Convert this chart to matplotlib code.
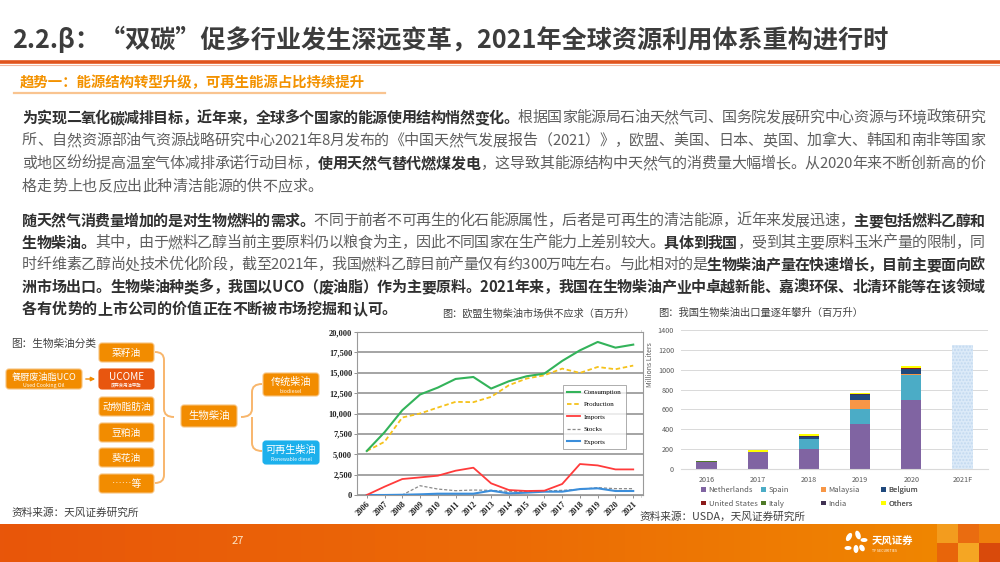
import matplotlib
matplotlib.use("Agg")
import numpy as np
import matplotlib.pyplot as plt
from matplotlib.patches import FancyBboxPatch, Rectangle, Ellipse, PathPatch
from matplotlib.path import Path
from matplotlib.ticker import FuncFormatter
from matplotlib.colors import LinearSegmentedColormap

plt.rcParams['font.family'] = ['Noto Sans CJK SC', 'DejaVu Sans']

# EU biodiesel supply / demand (million litres)
eu_years = list(range(2006, 2022))
consumption = [5400, 7700, 10400, 12330, 13180, 14240, 14480, 13060, 13960, 14570, 14900, 16450, 17750, 18780, 18080, 18450]
production = [5400, 6530, 9510, 10000, 10730, 11430, 11390, 12040, 13470, 14290, 14690, 15510, 14980, 15710, 15430, 15880]
imports = [0, 1020, 1960, 2160, 2370, 2980, 3350, 1430, 610, 490, 530, 1350, 3800, 3630, 3140, 3140]
stocks = [0, 0, 0, 1140, 730, 530, 610, 570, 450, 450, 490, 570, 690, 900, 780, 780]
exports = [0, 0, 30, 80, 160, 160, 160, 530, 200, 290, 410, 410, 730, 820, 490, 490]

# China biodiesel exports by destination (million litres)
cn_years = ['2016', '2017', '2018', '2019', '2020', '2021F']
netherlands = [72, 168, 198, 450, 695, 0]
spain = [0, 5, 100, 150, 252, 0]
malaysia = [0, 0, 8, 95, 10, 0]
belgium = [0, 0, 12, 50, 55, 0]
united_states = [0, 0, 5, 3, 3, 0]
italy = [5, 3, 3, 2, 2, 0]
india = [0, 0, 6, 4, 2, 0]
others = [3, 15, 22, 8, 18, 0]
forecast = [0, 0, 0, 0, 0, 1250]

title = "2.2.β：“双碳”促多行业发生深远变革，2021年全球资源利用体系重构进行时"
subtitle = "趋势一：能源结构转型升级，可再生能源占比持续提升"

para1 = [
    [("为实现二氧化碳减排目标，近年来，全球多个国家的能源使用结构悄然变化。", 1),
     ("根据国家能源局石油天然气司、国务院发展研究中心资源与环境政策研究", 0)],
    [("所、自然资源部油气资源战略研究中心2021年8月发布的《中国天然气发展报告（2021）》，欧盟、美国、日本、英国、加拿大、韩国和南非等国家", 0)],
    [("或地区纷纷提高温室气体减排承诺行动目标，", 0), ("使用天然气替代燃煤发电", 1),
     ("，这导致其能源结构中天然气的消费量大幅增长。从2020年来不断创新高的价", 0)],
    [("格走势上也反应出此种清洁能源的供不应求。", 0)],
]
para2 = [
    [("随天然气消费量增加的是对生物燃料的需求。", 1),
     ("不同于前者不可再生的化石能源属性，后者是可再生的清洁能源，近年来发展迅速，", 0),
     ("主要包括燃料乙醇和", 1)],
    [("生物柴油。", 1), ("其中，由于燃料乙醇当前主要原料仍以粮食为主，因此不同国家在生产能力上差别较大。", 0),
     ("具体到我国", 1), ("，受到其主要原料玉米产量的限制，同", 0)],
    [("时纤维素乙醇尚处技术优化阶段，截至2021年，我国燃料乙醇目前产量仅有约300万吨左右。与此相对的是", 0),
     ("生物柴油产量在快速增长，目前主要面向欧", 1)],
    [("洲市场出口。生物柴油种类多，我国以UCO（废油脂）作为主要原料。2021年来，我国在生物柴油产业中卓越新能、嘉澳环保、北清环能等在该领域", 1)],
    [("各有优势的上市公司的价值正在不断被市场挖掘和认可。", 1)],
]

DARK = '#303030'
GRAY = '#5f5f5f'
ORANGE = '#F28C00'

fig = plt.figure(figsize=(10, 5.62), dpi=100)
R = fig.canvas.get_renderer()
ax0 = fig.add_axes([0, 0, 1, 1])
ax0.set_xlim(0, 1000)
ax0.set_ylim(562, 0)
ax0.axis('off')

# width helpers (advance width, using a bracket of known glyphs)
_cache = {}
def raw_w(s, size, bold):
    t = ax0.text(0, 0, s, fontsize=size, fontweight='bold' if bold else 'normal')
    w = t.get_window_extent(R).width
    t.remove()
    return w

def adv(s, size, bold):
    key = (s, size, bold)
    if key not in _cache:
        _cache[key] = raw_w("口" + s + "口", size, bold) - raw_w("口口", size, bold)
    return _cache[key]

def draw_line(x0, y, segs, size, width=None):
    chars = [(c, b) for s, b in segs for c in s]
    ws = [adv(c, size, b) for c, b in chars]
    gap = 0
    if width:
        gap = (width - sum(ws)) / (len(chars) - 1)
    x = x0
    for (c, b), w in zip(chars, ws):
        ax0.text(x, y, c, fontsize=size, fontweight='bold' if b else 'normal',
                 color=DARK if b else GRAY, va='center', ha='left')
        x += w + gap

# title
tsize = 18
tw = adv(title, tsize, 1)
tsize = tsize * 878 / tw
ax0.text(12, 40, title, fontsize=tsize, fontweight='bold', color='#3c3c3c', va='center', ha='left')
ax0.plot([0, 1000], [62, 62], color='#E0541C', lw=2.6, solid_capstyle='butt')
ax0.plot([0, 1000], [64.5, 64.5], color='#F2B8A0', lw=0.8)

# subtitle
ax0.text(20, 83, subtitle, fontsize=10.4, fontweight='bold', color='#F39200', va='center', ha='left')
ax0.plot([14, 385], [93, 93], color='#F9C490', lw=1.6)

# paragraphs
psize = 10.8
for i, line in enumerate(para1):
    draw_line(22, 118 + 23 * i, line, psize, 963 if i < len(para1) - 1 else None)
for i, line in enumerate(para2):
    draw_line(22, 221 + 22 * i, line, psize, 963 if i < len(para2) - 1 else None)

# ---------------- diagram ----------------
ax0.text(11, 344, "图：生物柴油分类", fontsize=7.7, color='#404040', va='center', ha='left')
ax0.text(11, 513, "资料来源：天风证券研究所", fontsize=7.7, color='#404040', va='center', ha='left')

def box(x, y, w, h, fc, main, sub=None, msize=7, ssize=3.4):
    p = FancyBboxPatch((x, y), w, h, boxstyle="round,pad=0,rounding_size=3",
                       fc=fc, ec='#F7C27E' if fc == ORANGE else fc, lw=0.8)
    ax0.add_patch(p)
    if sub:
        ax0.text(x + w / 2, y + h * 0.40, main, fontsize=msize, color='white', ha='center', va='center')
        ax0.text(x + w / 2, y + h * 0.80, sub, fontsize=ssize, color='white', ha='center', va='center')
    else:
        ax0.text(x + w / 2, y + h / 2, main, fontsize=msize, color='white', ha='center', va='center')

left_items = ["菜籽油", None, "动物脂肪油", "豆粕油", "葵花油", "……等"]
left_tops = [343, 369, 397, 423, 448, 474]
for lab, top in zip(left_items, left_tops):
    if lab:
        box(99, top, 55, 19, ORANGE, lab, msize=7)
box(99, 369, 55, 20, '#E8560F', "UCOME", "废弃食用油甲酯", msize=7.2, ssize=3.2)
box(6, 369, 76, 20, ORANGE, "餐厨废油脂UCO", "Used Cooking Oil", msize=6.6, ssize=3.8)
ax0.annotate("", xy=(98, 379), xytext=(83, 379),
             arrowprops=dict(arrowstyle='-|>', color='#F28C00', lw=1, mutation_scale=6))
box(181, 405, 56, 22, ORANGE, "生物柴油", msize=7.5)
box(263, 373, 56, 23, ORANGE, "传统柴油", "biodiesel", msize=7.3, ssize=3.8)
box(263, 441, 56, 23, '#1CB0EC', "可再生柴油", "Renewable diesel", msize=7.3, ssize=3.6)

def brace(x0, xm, xp, ytop, ymid, ybot, r=6):
    verts = [(x0, ytop), (xm, ytop), (xm, ytop + r),
             (xm, ymid - r), (xm, ymid), (xp, ymid),
             (xm, ymid), (xm, ymid + r),
             (xm, ybot - r), (xm, ybot), (x0, ybot)]
    codes = [Path.MOVETO, Path.CURVE3, Path.CURVE3,
             Path.LINETO, Path.CURVE3, Path.CURVE3,
             Path.MOVETO, Path.CURVE3,
             Path.LINETO, Path.CURVE3, Path.CURVE3]
    ax0.add_patch(PathPatch(Path(verts, codes), fc='none', ec='#F8B66C', lw=1.4))

brace(155, 164, 174, 352, 417, 483, r=8)
brace(262, 252, 241, 384, 417, 451, r=8)

# faint strip left of export chart
ax0.plot([641, 641], [330, 497], color='#d0d0d0', lw=0.6)

# ---------------- EU chart ----------------
ax1 = fig.add_axes([0.357, 1 - 495 / 562, 0.286, 163 / 562])
ax1.plot(eu_years, consumption, color='#33B35A', lw=1.5, label='Consumption', zorder=5)
ax1.plot(eu_years, production, color='#F5C21B', lw=1.3, ls=(0, (2.5, 1.5)), label='Production', zorder=4)
ax1.plot(eu_years, imports, color='#FF3B3B', lw=1.3, label='Imports', zorder=4)
ax1.plot(eu_years, stocks, color='#8a8a8a', lw=0.9, ls=(0, (2.5, 1.5)), label='Stocks', zorder=3)
ax1.plot(eu_years, exports, color='#3B8EDB', lw=1.5, label='Exports', zorder=3)
ax1.set_xlim(2005.45, 2021.55)
ax1.set_ylim(0, 20000)
ax1.set_yticks(np.arange(0, 20001, 2500))
ax1.yaxis.set_major_formatter(FuncFormatter(lambda v, p: f"{int(v):,}"))
ax1.set_xticks(eu_years)
ax1.set_xticklabels([str(y) for y in eu_years], rotation=45, ha='right', rotation_mode='anchor')
ax1.grid(axis='y', color='#8c8c8c', lw=1.1)
ax1.set_axisbelow(True)
for s in ax1.spines.values():
    s.set_color('#9a9a9a')
    s.set_linewidth(0.8)
ax1.tick_params(length=2, width=0.6, color='#808080', pad=1.5)
for lab in ax1.get_xticklabels() + ax1.get_yticklabels():
    lab.set_family('Liberation Serif')
    lab.set_fontweight('bold')
    lab.set_fontsize(6)
    lab.set_color('#222222')
leg1 = ax1.legend(loc='upper left', bbox_to_anchor=(0.72, 0.675),
                  prop={'family': 'Liberation Serif', 'size': 5}, frameon=True, fancybox=False,
                  edgecolor='#888888', handlelength=1.9, labelspacing=0.95, borderpad=0.6,
                  handletextpad=0.5, borderaxespad=0)
leg1.get_frame().set_linewidth(0.6)
ax0.text(442, 314, "图：欧盟生物柴油市场供不应求（百万升）", fontsize=7.3, color='#404040', va='center', ha='left')

# ---------------- China export chart ----------------
ax2 = fig.add_axes([0.681, 1 - 469 / 562, 0.307, 139 / 562])
x = np.arange(len(cn_years))
series = [("Netherlands", netherlands, '#8064A2'), ("Spain", spain, '#4BACC6'),
          ("Malaysia", malaysia, '#F79646'), ("Belgium", belgium, '#1F497D'),
          ("United States", united_states, '#8B1A1A'), ("Italy", italy, '#4F7A28'),
          ("India", india, '#403152'), ("Others", others, '#FFFF00')]
bottom = np.zeros(len(cn_years))
handles = {}
for name, vals, col in series:
    handles[name] = ax2.bar(x, vals, 0.4, bottom=bottom, color=col, lw=0, label=name)
    bottom += np.array(vals)
ax2.bar(x, forecast, 0.4, color='#DCEAF8', hatch='.....', edgecolor='#C2D9F0', lw=0)
ax2.set_xlim(-0.5, 5.5)
ax2.set_ylim(0, 1400)
ax2.set_yticks(np.arange(0, 1401, 200))
ax2.set_xticks(x)
ax2.set_xticklabels(cn_years)
ax2.grid(axis='y', color='#d9d9d9', lw=0.7)
ax2.set_axisbelow(True)
for s in ax2.spines.values():
    s.set_visible(False)
ax2.spines['bottom'].set_visible(True)
ax2.spines['bottom'].set_color('#d9d9d9')
ax2.tick_params(length=0, labelsize=5.2, labelcolor='#595959', pad=5)
ax2.set_ylabel("Millions Liters", fontsize=5, color='#595959')
ax2.yaxis.set_label_coords(-0.088, 0.75)

# one legend per column so the columns sit at even spacing
columns = [["Netherlands", "United States"], ["Spain", "Italy"],
           ["Malaysia", "India"], ["Belgium", "Others"]]
col_x = [701, 761, 821, 881]
for names, cx in zip(columns, col_x):
    lg = ax2.legend([handles[n] for n in names], names, loc='upper left',
                    bbox_to_anchor=((cx - 681) / 307, -0.125), frameon=False, fontsize=5.5,
                    labelcolor='#595959', handlelength=0.6, handleheight=0.6, handletextpad=0.4,
                    labelspacing=0.7, borderpad=0, borderaxespad=0)
    ax2.add_artist(lg)
ax0.text(658, 313, "图：我国生物柴油出口量逐年攀升（百万升）", fontsize=7.4, color='#404040', va='center', ha='left')
ax0.text(639, 517, "资料来源：USDA，天风证券研究所", fontsize=7.7, color='#404040', va='center', ha='left')

# ---------------- footer ----------------
grad = np.linspace(0, 1, 256).reshape(1, -1)
cm = LinearSegmentedColormap.from_list('f', ['#E8560A', '#EC6A06', '#F08A00'])
ax0.imshow(grad, cmap=cm, extent=(0, 1000, 562, 524), aspect='auto', zorder=1)
sq = [('#F39C1E', 937, 524), ('#EA6C10', 958, 524), ('#EF800C', 979, 524),
      ('#E8650A', 937, 543), ('#F5A623', 958, 543), ('#D94A0B', 979, 543)]
for c, sx, sy in sq:
    ax0.add_patch(Rectangle((sx, sy), 21, 19, fc=c, ec='none', zorder=2))
ax0.set_xlim(0, 1000)
ax0.set_ylim(562, 0)
ax0.text(238, 541, "27", fontsize=8, color='#FCE3C4', ha='center', va='center', zorder=3)
for ex, ey, w, h, a in [(849, 537, 5, 9, 30), (858, 535, 5, 9, -20), (864, 540, 7, 4, 0),
                        (848, 548, 7, 4, 0), (856, 549, 5, 8, 0), (862, 548, 5, 7, -30)]:
    ax0.add_patch(Ellipse((ex, ey), w, h, angle=a, fc='white', ec='none', zorder=3))
ax0.text(872, 541, "天风证券", fontsize=7.5, fontweight='bold', color='white', ha='left', va='center', zorder=3)
ax0.text(872, 551, "TF SECURITIES", fontsize=2.6, color='white', ha='left', va='center', zorder=3)

fig.savefig("out.png", dpi=100)
